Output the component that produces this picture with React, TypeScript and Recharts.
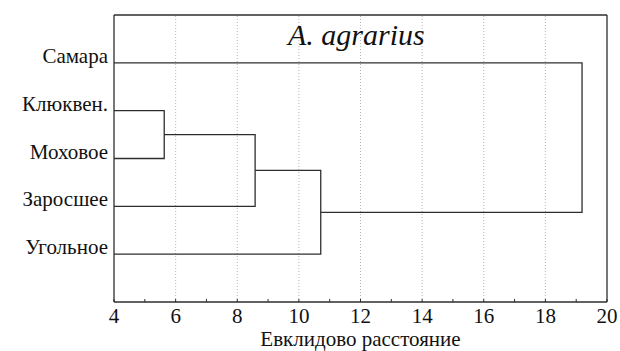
import { LineChart, Line, XAxis, YAxis, ReferenceLine } from "recharts";

// leaves top to bottom
const leafNames = ["Самара", "Клюквен.", "Моховое", "Заросшее", "Угольное"];
// joins in order; "#n" means the cluster made by join n
const mergeChildren: [string, string][] = [
  ["Клюквен.", "Моховое"],
  ["#0", "Заросшее"],
  ["#1", "Угольное"],
  ["Самара", "#2"],
];
const mergeDistances = [5.63, 8.58, 10.71, 19.19];

const xTicks = [4, 5, 6, 7, 8, 9, 10, 11, 12, 13, 14, 15, 16, 17, 18, 19, 20];
const gridValues = [6, 8, 10, 12, 14, 16, 18];
const leafTicks = [1, 2, 3, 4, 5];

const INK = "#2e2e2e";
const FONT = "Liberation Serif, Tinos, Times New Roman, serif";

type Pt = { x: number; y: number };

function buildBranches() {
  const nodes: Pt[] = [];
  const pos = (name: string): Pt => {
    if (name.startsWith("#")) return nodes[Number(name.slice(1))];
    return { x: 4, y: leafNames.indexOf(name) + 1 };
  };
  return mergeChildren.map(([a, b], i) => {
    const pa = pos(a);
    const pb = pos(b);
    const d = mergeDistances[i];
    nodes.push({ x: d, y: (pa.y + pb.y) / 2 });
    return [pa, { x: d, y: pa.y }, { x: d, y: pb.y }, pb];
  });
}

const branches = buildBranches();

const BottomTick = ({ x, y, payload }: any) => {
  const v = payload.value;
  return (
    <g>
      <line x1={x} x2={x} y1={y} y2={y - 3} stroke={INK} />
      {v % 2 === 0 && (
        <text x={x} y={y + 21} textAnchor="middle" fontFamily={FONT} fontSize={21} fill="#111">
          {v}
        </text>
      )}
    </g>
  );
};

const TopTick = ({ x, y }: any) => (
  <line x1={x} x2={x} y1={y} y2={y + 3} stroke={INK} />
);

const RightTick = ({ x, y }: any) => (
  <line x1={x} x2={x - 3} y1={y} y2={y} stroke={INK} />
);

const LeftTick = ({ x, y, payload }: any) => (
  <text x={x - 6} y={y} textAnchor="end" fontFamily={FONT} fontSize={21} fill="#111">
    {leafNames[payload.value - 1]}
  </text>
);

export default function App() {
  return (
    <div style={{ position: "absolute", left: 0, top: 0, width: 620, height: 351, background: "#fff" }}>
      <LineChart width={620} height={351} margin={{ top: 14, right: 12, left: 0, bottom: 0 }}>
        <XAxis
          type="number"
          dataKey="x"
          domain={[4, 20]}
          ticks={xTicks}
          interval={0}
          tickSize={0}
          tickMargin={0}
          tickLine={false}
          tick={<BottomTick />}
          axisLine={{ stroke: INK, strokeWidth: 1.3 }}
          height={49}
          label={{
            value: "Евклидово расстояние",
            position: "insideBottom",
            offset: 5,
            fill: "#111",
            fontSize: 21,
            fontFamily: FONT,
          }}
        />
        <XAxis
          xAxisId="top"
          orientation="top"
          type="number"
          dataKey="x"
          domain={[4, 20]}
          ticks={xTicks}
          interval={0}
          tickSize={0}
          tickMargin={0}
          tickLine={false}
          tick={<TopTick />}
          axisLine={{ stroke: INK, strokeWidth: 1.3 }}
          height={1}
        />
        <YAxis
          type="number"
          domain={[0, 6]}
          reversed
          ticks={leafTicks}
          interval={0}
          tickSize={0}
          tickMargin={0}
          tickLine={false}
          tick={<LeftTick />}
          axisLine={{ stroke: INK, strokeWidth: 1.3 }}
          width={114}
        />
        <YAxis
          yAxisId="right"
          orientation="right"
          type="number"
          domain={[0, 6]}
          reversed
          ticks={leafTicks}
          interval={0}
          tickSize={0}
          tickMargin={0}
          tickLine={false}
          tick={<RightTick />}
          axisLine={{ stroke: INK, strokeWidth: 1.3 }}
          width={1}
        />
        {gridValues.map((v) => (
          <ReferenceLine key={v} x={v} stroke="#b5b5b5" strokeDasharray="1 2" />
        ))}
        {branches.map((pts, i) => (
          <Line
            key={i}
            data={pts}
            dataKey="y"
            type="linear"
            stroke={INK}
            strokeWidth={1.3}
            dot={false}
            activeDot={false}
            isAnimationActive={false}
          />
        ))}
      </LineChart>
      <div
        style={{
          position: "absolute",
          left: 288,
          top: 20,
          fontFamily: FONT,
          fontStyle: "italic",
          fontSize: 30,
          color: "#111",
          whiteSpace: "nowrap",
          lineHeight: "30px",
        }}
      >
        A. agrarius
      </div>
    </div>
  );
}
